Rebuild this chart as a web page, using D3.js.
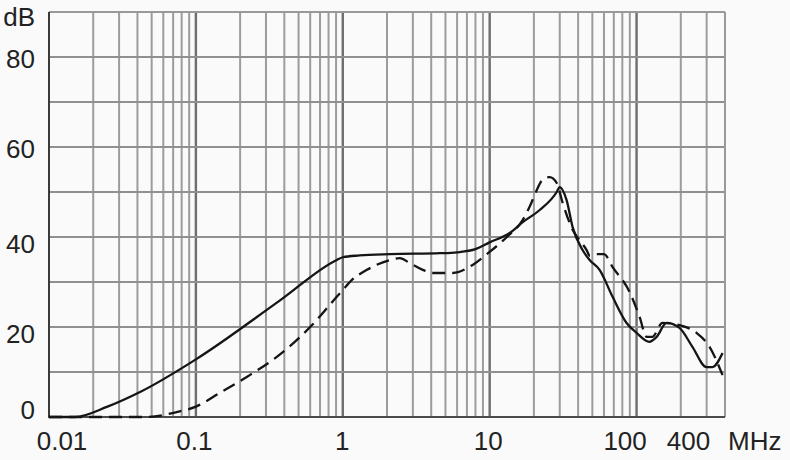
<!DOCTYPE html>
<html><head><meta charset="utf-8">
<script src="https://cdn.jsdelivr.net/npm/d3@7"></script>
<style>
html,body{margin:0;padding:0;background:#fafafa;}
svg{display:block;}
text{font-family:"Liberation Sans",Arial,sans-serif;fill:#222;}
</style></head>
<body>
<svg id="c" width="790" height="460"></svg>
<script>
// ---- data ----
const xTickValues = [0.01, 0.1, 1, 10, 100, 400];
const xTickLabels = ["0.01", "0.1", "1", "10", "100", "400"];
const yTickValues = [0, 20, 40, 60, 80];
const xUnit = "MHz";
const yUnit = "dB";
const solidFreq = [0.01,0.015,0.025,0.042,0.1,0.37,0.91,1.0,1.3,2.1,4.6,6.0,8.0,10.0,13.7,16.8,21.9,28.6,29.9,33.4,36.7,42.9,47.9,56,68.7,85.5,100,122,137,160,196,240,299,329,385];
const solidDb   = [0,0,2.3,5.6,12.8,25.8,34.9,35.5,35.9,36.2,36.4,36.6,37.3,38.8,40.9,43.3,46,50,51.1,48.2,42.2,37.1,34.9,32.7,26.7,20.9,18.7,16.7,17.8,20.9,19.8,15.6,11.1,11.1,14.2];
const dashFreq  = [0.01,0.046,0.074,0.1,0.146,0.222,0.37,0.625,0.91,1.0,1.15,1.46,2.1,2.44,2.86,3.5,4.1,5.6,7.66,10,13.1,16.8,18.7,20.9,22.9,25.6,28.6,31.4,36.7,40.9,45.7,48,53.5,60,68.7,89.6,105,117,128,150,196,256,314,385];
const dashDb    = [0,0,1.1,2.3,5.4,8.9,13.8,20.6,26.7,28.2,30.4,32.7,34.9,35.3,34.2,32.7,32,32,33.8,36.7,40,43.8,46.7,50.4,52.7,53.3,52,47.6,41.6,39.3,37.1,35.8,36.2,36.2,33.3,27.8,22.2,17.8,17.8,20.9,20.4,18.7,15.6,9.3];

// ---- layout ----
const L = 49, R = 725, T = 12, B = 417;
const svg = d3.select("#c");
const x = d3.scaleLog().domain([0.01, 400]).range([L, R]);
const y = d3.scaleLinear().domain([0, 90]).range([B, T]);

// grid: vertical lines at 1..9 x each decade
const minor = [];
[0.01, 0.1, 1, 10, 100].forEach(d => { for (let k = 1; k <= 9; k++) { const v = d * k; if (v > 0.01 && v < 400) minor.push(v); } });
const isMajor = d => [0.1, 1, 10, 100].includes(+d.toPrecision(6));
svg.append("g").selectAll("line").data(minor).join("line")
  .attr("x1", d => x(d)).attr("x2", d => x(d)).attr("y1", T).attr("y2", B)
  .attr("stroke", d => isMajor(d) ? "#6e6e6e" : "#9c9c9c")
  .attr("stroke-width", d => isMajor(d) ? 2.4 : 2);
svg.append("g").selectAll("line").data(d3.range(10, 90, 10)).join("line")
  .attr("x1", L).attr("x2", R).attr("y1", d => y(d)).attr("y2", d => y(d))
  .attr("stroke", "#909090").attr("stroke-width", 2);
// frame
svg.append("line").attr("x1", L).attr("x2", R).attr("y1", T).attr("y2", T).attr("stroke", "#999").attr("stroke-width", 2);
svg.append("line").attr("x1", R).attr("x2", R).attr("y1", T).attr("y2", B).attr("stroke", "#999").attr("stroke-width", 2);
svg.append("line").attr("x1", L).attr("x2", L).attr("y1", T).attr("y2", B + 1).attr("stroke", "#3a3a3a").attr("stroke-width", 2);
svg.append("line").attr("x1", L).attr("x2", R).attr("y1", B).attr("y2", B).attr("stroke", "#4a4a4a").attr("stroke-width", 2);

// axes labels
const xdx = [12.5, -2, -1, -2, -12, -37];
const xAxis = svg.append("g").attr("transform", `translate(0,${B})`)
  .call(d3.axisBottom(x).tickValues(xTickValues).tickSize(0).tickFormat((d, i) => xTickLabels[i]));
xAxis.select(".domain").remove();
xAxis.selectAll("text").attr("font-size", 26).attr("fill", "#222").attr("y", 0).attr("dy", 0)
  .attr("transform", (d, i) => `translate(${xdx[i]},33)`).attr("font-family", '"Liberation Sans",Arial,sans-serif');
svg.append("text").attr("x", 728).attr("y", 450).attr("font-size", 26).text(xUnit);

const ydy = [-8, 6, 6, 1, 1];
const yAxis = svg.append("g").attr("transform", `translate(35,0)`)
  .call(d3.axisLeft(y).tickValues(yTickValues).tickSize(0).tickPadding(0));
yAxis.select(".domain").remove();
yAxis.selectAll("text").attr("font-size", 26).attr("fill", "#222").attr("dy", (d, i) => (9.3 + ydy[i]) + "px")
  .attr("font-family", '"Liberation Sans",Arial,sans-serif');
svg.append("text").attr("x", 35).attr("y", 26).attr("text-anchor", "end").attr("font-size", 26).text(yUnit);

// curves
const line = d3.line().x(d => x(d[0])).y(d => y(d[1])).curve(d3.curveMonotoneX);
svg.append("path").datum(solidFreq.map((f, i) => [f, solidDb[i]]))
  .attr("d", line).attr("fill", "none").attr("stroke", "#151515").attr("stroke-width", 2.3);
svg.append("path").datum(dashFreq.map((f, i) => [f, dashDb[i]]))
  .attr("d", line).attr("fill", "none").attr("stroke", "#151515").attr("stroke-width", 2.3)
  .attr("stroke-dasharray", "13,7");
</script>
</body></html>
